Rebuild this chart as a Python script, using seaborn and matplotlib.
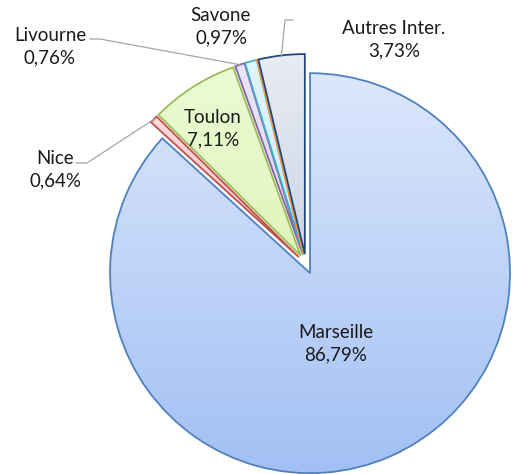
import matplotlib
matplotlib.use("Agg")
import matplotlib.pyplot as plt
import seaborn as sns
import numpy as np
from matplotlib.colors import LinearSegmentedColormap

sns.set_theme(style="white")
plt.rcParams['font.family'] = ['Lato', 'DejaVu Sans']

# ---- data ----
ports = ["Marseille", "Nice", "Toulon", "Livourne", "Savone", "", "Autres Inter."]
shares = [86.79, 0.64, 7.11, 0.76, 0.97, 0.02, 3.73]

# ---- styles ----
tops = ["#dce7fc", "#fbdada", "#ecfbd3", "#ebe5f7", "#def5fc", "#fdeadb", "#e8ecf3"]
bottoms = ["#a2c0f4", "#f4c4c4", "#dff5bd", "#dcd2f0", "#c8eef9", "#f9dcc4", "#cdd6e6"]
edges = ["#4f81bd", "#c0504d", "#9bbb59", "#8064a2", "#4bacc6", "#f79646", "#1f497d"]

label_pos = {  # label block centres (pixels, y up)
    "Marseille": (336, 130),
    "Nice": (55, 304),
    "Toulon": (213, 345),
    "Livourne": (50, 427),
    "Savone": (221, 447),
    "Autres Inter.": (394, 434),
}

W, H = 523, 474
fig = plt.figure(figsize=(W / 100, H / 100), dpi=100)
ax = fig.add_axes([0, 0, 1, 1])

wedges, _ = ax.pie(shares, colors=["none"] * len(shares), startangle=90,
                   counterclock=False, radius=200, center=(306, 210),
                   explode=[10] * len(shares), frame=True,
                   wedgeprops=dict(linewidth=1.3))
ax.set_xlim(0, W)
ax.set_ylim(0, H)
ax.set_aspect('equal')
ax.axis('off')

grad = np.linspace(0, 1, 256).reshape(-1, 1)
for w, e, t, b in zip(wedges, edges, tops, bottoms):
    w.set_edgecolor(e)
    w.set_zorder(2)
    ext = w.get_path().get_extents(w.get_transform())
    bb = ax.transData.inverted().transform([[ext.x0, ext.y0], [ext.x1, ext.y1]])
    cmap = LinearSegmentedColormap.from_list("g", [b, t])
    im = ax.imshow(grad, extent=[bb[0][0], bb[1][0], bb[0][1], bb[1][1]],
                   origin='lower', cmap=cmap, aspect='auto', zorder=1,
                   interpolation='bilinear')
    im.set_clip_path(w)
ax.set_xlim(0, W)
ax.set_ylim(0, H)


def fmt(v):
    return f"{v:.2f}".replace('.', ',') + '%'


for name, v in zip(ports, shares):
    if name in label_pos:
        x, y = label_pos[name]
        ax.text(x, y, f"{name}\n{fmt(v)}", ha='center', va='center',
                fontsize=13.5, color='#1a1a1a', linespacing=1.4, zorder=5)


def outer_mid(w):
    a = np.deg2rad((w.theta1 + w.theta2) / 2)
    cx, cy = w.center
    return cx + w.r * np.cos(a), cy + w.r * np.sin(a)


lc = '#a6a6a6'
idx = {n: i for i, n in enumerate(ports)}
# Nice leader
px, py = outer_mid(wedges[idx["Nice"]])
ax.plot([76, 87, px], [311, 311, py], color=lc, lw=0.9, zorder=3)
# Livourne leader
px, py = outer_mid(wedges[idx["Livourne"]])
ax.plot([90, 100, px], [435, 435, py], color=lc, lw=0.9, zorder=3)
# empty label leader
px, py = outer_mid(wedges[idx["Autres Inter."]])
ax.plot([px, 285, 293], [py, 454, 454], color=lc, lw=0.9, zorder=3)

fig.savefig("out.png", dpi=100)
